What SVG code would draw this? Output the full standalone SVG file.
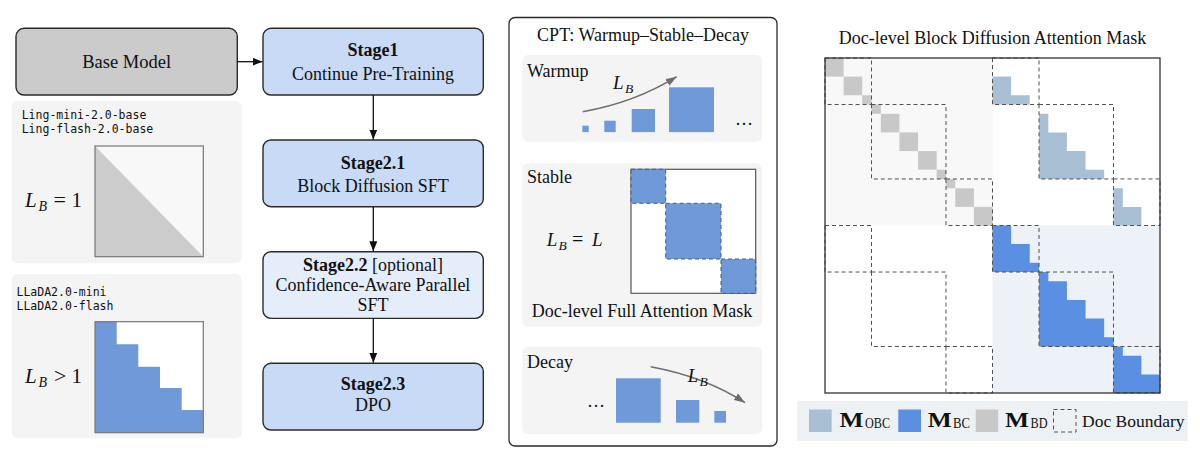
<svg xmlns="http://www.w3.org/2000/svg" width="1200" height="465" viewBox="0 0 1200 465">
<style>
.serif{font-family:"Liberation Serif","Times New Roman",serif;fill:#111}
.mono{font-family:"DejaVu Sans Mono","Liberation Mono",monospace;font-size:11.5px;fill:#111}
.it{font-style:italic}
.node{stroke:#2b2b2b;stroke-width:1.4}
.panel{fill:#f4f4f4}
.blue{fill:#7099d9}
.dash{fill:none;stroke:#505050;stroke-width:1;stroke-dasharray:4 3}
.bdash{stroke:#3f5c8c;stroke-width:1;stroke-dasharray:4 3}
.conn{stroke:#111;stroke-width:1.3;fill:none}
.curve{stroke:#6e6e6e;stroke-width:1.5;fill:none}
</style>
<defs>
<marker id="ah" markerUnits="userSpaceOnUse" markerWidth="10" markerHeight="8" refX="10" refY="4" orient="auto"><path d="M0,0 L10,4 L0,8 z" fill="#111"/></marker>
<marker id="ahs" markerUnits="userSpaceOnUse" markerWidth="8" markerHeight="7" refX="8" refY="3.5" orient="auto"><path d="M0,0 L8,3.5 L0,7 z" fill="#111"/></marker>
<marker id="ahg" markerUnits="userSpaceOnUse" markerWidth="11" markerHeight="8" refX="11" refY="4" orient="auto"><path d="M0,0 L11,4 L0,8 z" fill="#6e6e6e"/></marker>
</defs>
<rect width="1200" height="465" fill="#fff"/>

<!-- Left column -->
<g id="base-model">
<rect class="node" x="16" y="28.3" width="221.3" height="66.7" rx="8" fill="#cbcbcb"/>
<text class="serif" x="126.7" y="68" font-size="18.5" text-anchor="middle">Base Model</text>
</g>
<g id="panel-ling">
<rect class="panel" x="11.7" y="101" width="230" height="162.3" rx="6"/>
<text class="mono" x="21.7" y="119">Ling-mini-2.0-base</text>
<text class="mono" x="21.7" y="133.3">Ling-flash-2.0-base</text>
<rect x="95" y="146" width="108.3" height="110.7" fill="#f8f8f8"/>
<path d="M95,146 L203.3,256.7 L95,256.7 Z" fill="#cccccc"/>
<rect x="95" y="146" width="108.3" height="110.7" fill="none" stroke="#777" stroke-width="1.2"/>
<text class="serif it" x="25" y="206.7" font-size="21">L</text>
<text class="serif it" x="38.5" y="210.5" font-size="14">B</text>
<text class="serif" x="53.5" y="206.7" font-size="22">=</text>
<text class="serif" x="71.5" y="206.7" font-size="21">1</text>
</g>
<g id="panel-llada">
<rect class="panel" x="11.7" y="274" width="230" height="164.3" rx="6"/>
<text class="mono" x="16.5" y="295.7">LLaDA2.0-mini</text>
<text class="mono" x="16.5" y="309.5">LLaDA2.0-flash</text>
<rect x="95" y="321.7" width="108.3" height="111" fill="#fff"/>
<path class="blue" d="M95,321.7 H116.7 V344.3 H138.3 V366.7 H160 V388 H181.7 V410 H203.3 V432.7 H95 Z"/>
<rect x="95" y="321.7" width="108.3" height="111" fill="none" stroke="#777" stroke-width="1.2"/>
<text class="serif it" x="25" y="383" font-size="21">L</text>
<text class="serif it" x="38.5" y="386.8" font-size="14">B</text>
<text class="serif" x="54" y="383" font-size="22">&gt;</text>
<text class="serif" x="71.5" y="383" font-size="21">1</text>
</g>

<!-- Stages -->
<g id="stage1">
<rect class="node" x="263" y="28.3" width="220.3" height="66.7" rx="8" fill="#c8daf5"/>
<text class="serif" x="373" y="56" font-size="18" text-anchor="middle" font-weight="bold">Stage1</text>
<text class="serif" x="373" y="79.5" font-size="18" text-anchor="middle">Continue Pre-Training</text>
</g>
<g id="stage2-1">
<rect class="node" x="263" y="140" width="220.3" height="66.7" rx="8" fill="#c8daf5"/>
<text class="serif" x="373" y="168.5" font-size="18" text-anchor="middle" font-weight="bold">Stage2.1</text>
<text class="serif" x="373" y="192" font-size="18" text-anchor="middle">Block Diffusion SFT</text>
</g>
<g id="stage2-2">
<rect class="node" x="263" y="251.7" width="220.3" height="66.7" rx="8" fill="#e5edfa"/>
<text class="serif" x="373" y="270.7" font-size="18" text-anchor="middle"><tspan font-weight="bold">Stage2.2</tspan> [optional]</text>
<text class="serif" x="373" y="290.7" font-size="18" text-anchor="middle">Confidence-Aware Parallel</text>
<text class="serif" x="373" y="310.7" font-size="18" text-anchor="middle">SFT</text>
</g>
<g id="stage2-3">
<rect class="node" x="263" y="363.3" width="220.3" height="66.7" rx="8" fill="#c8daf5"/>
<text class="serif" x="373" y="389.5" font-size="18" text-anchor="middle" font-weight="bold">Stage2.3</text>
<text class="serif" x="373" y="411" font-size="18" text-anchor="middle">DPO</text>
</g>

<g id="connectors">
<line class="conn" x1="237.3" y1="61.7" x2="262.5" y2="61.7" marker-end="url(#ah)"/>
<line class="conn" x1="373.3" y1="95" x2="373.3" y2="139.5" marker-end="url(#ah)"/>
<line class="conn" x1="373.3" y1="206.7" x2="373.3" y2="251.2" marker-end="url(#ah)"/>
<line class="conn" x1="373.3" y1="318.4" x2="373.3" y2="362.8" marker-end="url(#ah)"/>
<line class="conn" x1="642.7" y1="143" x2="642.7" y2="160.5" marker-end="url(#ahs)"/>
<line class="conn" x1="642.7" y1="327" x2="642.7" y2="343.5" marker-end="url(#ahs)"/>
</g>

<!-- CPT panel -->
<g id="cpt">
<rect x="509" y="17.5" width="268" height="428.5" rx="6" fill="#fff" stroke="#2b2b2b" stroke-width="1.3"/>
<text class="serif" x="643" y="41" font-size="18" text-anchor="middle">CPT: Warmup–Stable–Decay</text>
</g>
<g id="warmup">
<rect class="panel" x="522.3" y="55" width="240" height="86.7" rx="6"/>
<text class="serif" x="527" y="77" font-size="18">Warmup</text>
<rect class="blue" x="582.3" y="125.7" width="6.4" height="6.4"/>
<rect class="blue" x="604.3" y="120.7" width="11.4" height="11.4"/>
<rect class="blue" x="631.7" y="109" width="23.3" height="23.1"/>
<rect class="blue" x="669" y="87.3" width="45" height="44.8"/>
<text class="serif" x="735" y="124.5" font-size="18">…</text>
<path class="curve" d="M582.7,111.7 Q634,103 676.7,76.7" marker-end="url(#ahg)"/>
<text class="serif it" x="613" y="89" font-size="19">L</text>
<text class="serif it" x="625" y="93" font-size="13.5">B</text>
</g>
<g id="stable">
<rect class="panel" x="522.3" y="163.3" width="240" height="163.4" rx="6"/>
<text class="serif" x="527" y="183" font-size="18">Stable</text>
<rect x="631" y="169.3" width="124.7" height="124" fill="#fff" stroke="#555" stroke-width="1.2"/>
<rect class="blue bdash" x="631" y="169.3" width="34.7" height="34"/>
<rect class="blue bdash" x="665.7" y="203.3" width="55.3" height="55.7"/>
<rect class="blue bdash" x="721" y="259" width="34.7" height="34.3"/>
<text class="serif it" x="546.7" y="246" font-size="19">L</text>
<text class="serif it" x="558.5" y="250" font-size="13.5">B</text>
<text class="serif" x="572" y="246" font-size="20">=</text>
<text class="serif it" x="592" y="246" font-size="19">L</text>
<text class="serif" x="642" y="317" font-size="18" text-anchor="middle">Doc-level Full Attention Mask</text>
</g>
<g id="decay">
<rect class="panel" x="522.3" y="346.7" width="240" height="87.3" rx="6"/>
<text class="serif" x="527" y="368" font-size="18">Decay</text>
<rect class="blue" x="616" y="378.3" width="44.7" height="44.4"/>
<rect class="blue" x="676" y="400" width="23.3" height="22.7"/>
<rect class="blue" x="714.3" y="411" width="11.7" height="11.7"/>
<text class="serif" x="587" y="407" font-size="18">…</text>
<path class="curve" d="M650.7,366.7 Q706,377 745,402.7" marker-end="url(#ahg)"/>
<text class="serif it" x="687.7" y="381.7" font-size="19">L</text>
<text class="serif it" x="699.5" y="385.5" font-size="13.5">B</text>
</g>

<!-- Right mask -->
<g id="mask">
<text class="serif" x="992.5" y="44" font-size="18" text-anchor="middle">Doc-level Block Diffusion Attention Mask</text>
<rect x="825" y="58" width="335" height="335" fill="#fff"/>
<rect x="825" y="58" width="167.5" height="167.5" fill="#f8f8f8"/>
<rect x="992.5" y="225.5" width="167.5" height="167.5" fill="#edf2f8"/>
<g fill="#c8c8c8">
<rect x="825" y="58" width="18.61" height="18.61"/>
<rect x="843.61" y="76.61" width="18.61" height="18.61"/>
<rect x="862.22" y="95.22" width="9.31" height="9.31"/>
<rect x="871.53" y="104.53" width="9.31" height="9.31"/>
<rect x="880.83" y="113.83" width="18.61" height="18.61"/>
<rect x="899.44" y="132.44" width="18.61" height="18.61"/>
<rect x="918.06" y="151.06" width="18.61" height="18.61"/>
<rect x="936.67" y="169.67" width="9.31" height="9.31"/>
<rect x="945.97" y="178.97" width="9.31" height="9.31"/>
<rect x="955.28" y="188.28" width="18.61" height="18.61"/>
<rect x="973.89" y="206.89" width="18.61" height="18.61"/>
</g>
<g fill="#a9bfd3">
<path d="M992.5,76.61 H1011.11 V95.22 H1029.72 V104.53 H992.5 Z"/>
<path d="M1039.03,113.83 H1048.33 V132.44 H1066.94 V151.06 H1085.56 V169.67 H1104.17 V178.97 H1039.03 Z"/>
<path d="M1113.47,188.28 H1122.78 V206.89 H1141.39 V225.5 H1113.47 Z"/>
</g>
<g fill="#5a8fe2">
<path d="M992.5,225.5 H1011.11 V244.11 H1029.72 V262.72 H1039.03 V272.03 H992.5 Z"/>
<path d="M1039.03,272.03 H1048.33 V281.33 H1066.94 V299.94 H1085.56 V318.56 H1104.17 V337.17 H1113.47 V346.47 H1039.03 Z"/>
<path d="M1113.47,346.47 H1122.78 V355.78 H1141.39 V374.39 H1160 V393 H1113.47 Z"/>
</g>
<g class="dash">
<rect x="825" y="58" width="46.53" height="46.53"/>
<rect x="871.53" y="104.53" width="74.44" height="74.44"/>
<rect x="945.97" y="178.97" width="46.53" height="46.53"/>
<rect x="992.5" y="58" width="46.53" height="46.53"/>
<rect x="1039.03" y="104.53" width="74.44" height="74.44"/>
<rect x="1113.47" y="178.97" width="46.53" height="46.53"/>
<rect x="825" y="225.5" width="46.53" height="46.53"/>
<rect x="871.53" y="272.03" width="74.44" height="74.44"/>
<rect x="945.97" y="346.47" width="46.53" height="46.53"/>
<rect x="992.5" y="225.5" width="46.53" height="46.53"/>
<rect x="1039.03" y="272.03" width="74.44" height="74.44"/>
<rect x="1113.47" y="346.47" width="46.53" height="46.53"/>
</g>
<rect x="825" y="58" width="335" height="335" fill="none" stroke="#333" stroke-width="1.3"/>
</g>
<g id="legend">
<rect x="797.3" y="400.7" width="390.4" height="40.3" fill="#eef1f4"/>
<rect x="809" y="409.5" width="22.7" height="22.5" fill="#a9bfd3"/>
<text class="serif" x="839.5" y="427" font-size="20" font-weight="bold" textLength="24" lengthAdjust="spacingAndGlyphs">M</text>
<text class="serif" x="865" y="428" font-size="14" textLength="25" lengthAdjust="spacingAndGlyphs">OBC</text>
<rect x="898.3" y="409.5" width="22.7" height="22.5" fill="#5a8fe2"/>
<text class="serif" x="927.7" y="427" font-size="20" font-weight="bold" textLength="24" lengthAdjust="spacingAndGlyphs">M</text>
<text class="serif" x="953" y="428" font-size="14" textLength="17" lengthAdjust="spacingAndGlyphs">BC</text>
<rect x="975.7" y="409.5" width="22.5" height="22.5" fill="#c8c8c8"/>
<text class="serif" x="1005" y="427" font-size="20" font-weight="bold" textLength="24" lengthAdjust="spacingAndGlyphs">M</text>
<text class="serif" x="1030.5" y="428" font-size="14" textLength="17" lengthAdjust="spacingAndGlyphs">BD</text>
<rect class="dash" x="1053.5" y="409.5" width="22.5" height="22.5"/>
<text class="serif" x="1082" y="427" font-size="17.5">Doc Boundary</text>
</g>
</svg>
